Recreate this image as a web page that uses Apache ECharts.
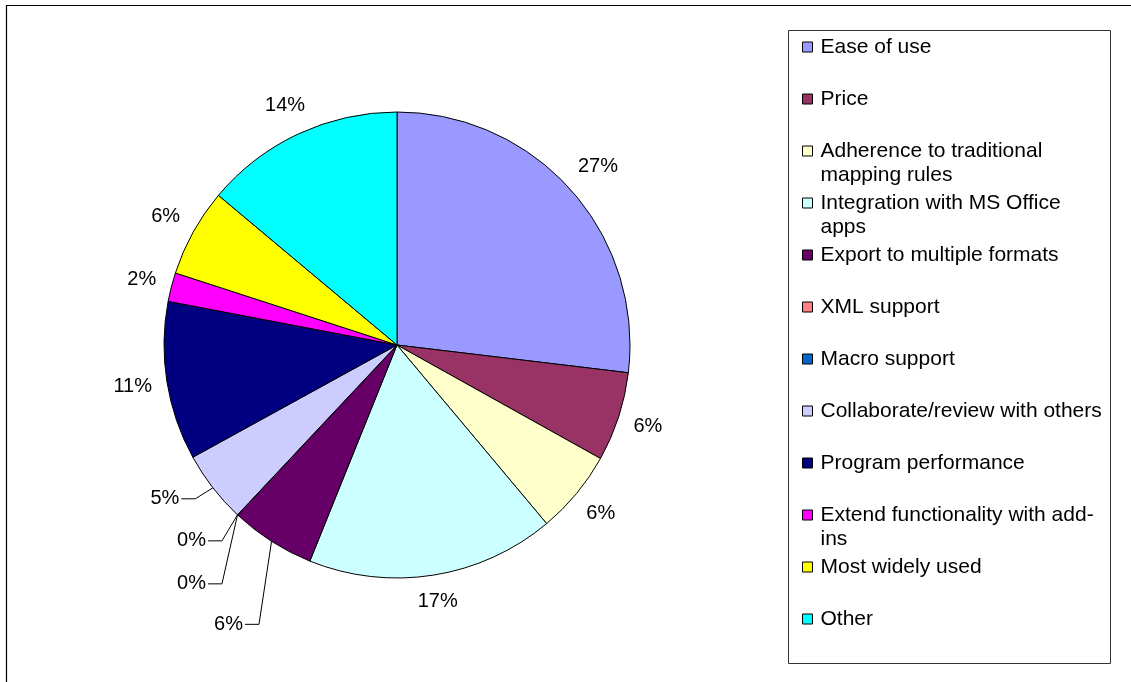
<!DOCTYPE html>
<html>
<head>
<meta charset="utf-8">
<script src="https://cdn.jsdelivr.net/npm/echarts@6/dist/echarts.min.js"></script>
<style>
html, body { margin: 0; padding: 0; background: #fff; }
#chart { width: 1131px; height: 682px; }
</style>
</head>
<body>
<div id="chart"></div>
<script>
const categories = ['Ease of use', 'Price', 'Adherence to traditional mapping rules', 'Integration with MS Office apps',
	'Export to multiple formats', 'XML support', 'Macro support', 'Collaborate/review with others',
	'Program performance', 'Extend functionality with add-ins', 'Most widely used', 'Other']
const values = [26.9, 6.2, 5.8, 17.2, 5.9, 0, 0, 5.0, 11.0, 2.0, 6.1, 13.9]
// legend text as Excel wrapped it
const legendLines = [['Ease of use'], ['Price'], ['Adherence to traditional', 'mapping rules'], ['Integration with MS Office', 'apps'],
	['Export to multiple formats'], ['XML support'], ['Macro support'], ['Collaborate/review with others'],
	['Program performance'], ['Extend functionality with add-', 'ins'], ['Most widely used'], ['Other']]
const colors = ['#9999FF', '#993366', '#FFFFCC', '#CCFFFF', '#660066', '#FF8080', '#0066CC', '#CCCCFF', '#000080', '#FF00FF', '#FFFF00', '#00FFFF']

// labels pulled away from the pie (with a leader line): offset of the label centre from the slice edge
const pulledLabels = {4: [-43, 83], 5: [-46, 26], 6: [-46, 69], 7: [-48, 11]}
const font = 'Liberation Sans, Arial, sans-serif'

const chart = echarts.init(document.getElementById('chart'), null, {renderer: 'canvas'})

const data = categories.map((name, i) => ({
	name: name,
	value: values[i],
	itemStyle: {color: colors[i]},
	labelLine: pulledLabels[i] ? {lineStyle: {opacity: 1}} : undefined
}))

chart.setOption({
	animation: false,
	backgroundColor: '#fff',
	graphic: [
		{type: 'rect', silent: true, shape: {x: 6.5, y: 5.5, width: 1400, height: 1000}, style: {fill: 'none', stroke: '#000', lineWidth: 1.2}},
		{type: 'rect', silent: true, shape: {x: 788.5, y: 30.5, width: 322, height: 633}, style: {fill: 'none', stroke: '#333', lineWidth: 1}}
	],
	legend: {
		orient: 'vertical',
		left: 802,
		top: 11,
		padding: 0,
		itemGap: -20,
		itemWidth: 10,
		itemHeight: 10,
		icon: 'rect',
		selectedMode: false,
		itemStyle: {borderColor: '#000', borderWidth: 1},
		textStyle: {fontFamily: font, fontSize: 21, lineHeight: 24, color: '#000', padding: [0, 0, 0, 3]},
		// three lines per item so the marker sits on the first text line
		formatter: name => {
			const l = legendLines[categories.indexOf(name)]
			return '\n' + l[0] + '\n' + (l[1] || '')
		},
		data: categories
	},
	series: [{
		type: 'pie',
		center: [397, 345],
		radius: 233,
		startAngle: 90,
		clockwise: true,
		avoidLabelOverlap: false,
		itemStyle: {borderColor: '#000', borderWidth: 1},
		emphasis: {disabled: true},
		label: {
			show: true,
			position: 'outside',
			fontFamily: font,
			fontSize: 20,
			color: '#000',
			formatter: p => Math.round(p.percent) + '%'
		},
		labelLine: {show: true, length: 15, length2: 0, lineStyle: {color: '#000', width: 1, opacity: 0}},
		labelLayout: function (p) {
			const pts = p.labelLinePoints
			if (!pts) return {}
			const w = p.labelRect.width, h = p.labelRect.height
			const pull = pulledLabels[p.dataIndex]
			if (pull) {
				const x = pts[0][0] + pull[0], y = pts[0][1] + pull[1]
				const right = x + w / 2
				return {x: x, y: y, align: 'center', verticalAlign: 'middle',
					labelLinePoints: [pts[0], [right + 16, y], [right + 2, y]]}
			}
			let dx = pts[1][0] - pts[0][0], dy = pts[1][1] - pts[0][1]
			const len = Math.hypot(dx, dy) || 1
			dx /= len
			dy /= len
			const d = 14 + Math.abs(dx) * w / 2 + Math.abs(dy) * h / 2
			return {x: pts[0][0] + dx * d, y: pts[0][1] + dy * d, align: 'center', verticalAlign: 'middle'}
		},
		data: data
	}]
})
</script>
</body>
</html>
